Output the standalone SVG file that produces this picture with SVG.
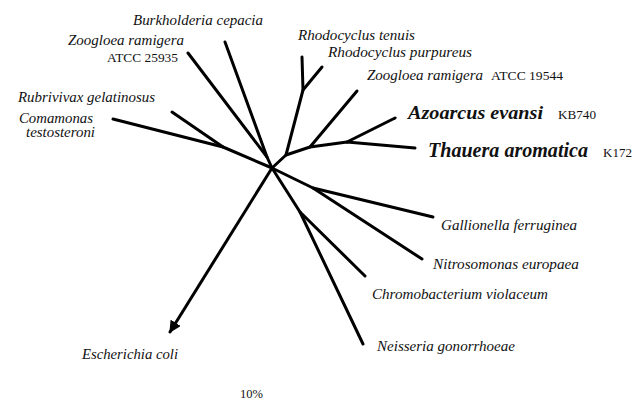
<svg xmlns="http://www.w3.org/2000/svg" width="634" height="405" viewBox="0 0 634 405">
<defs>
<style>
.br{stroke:#000;stroke-width:3;fill:none;stroke-linecap:round;stroke-linejoin:round}
.sp{font-family:"Liberation Serif","Times New Roman",serif;font-style:italic;font-size:14px;fill:#111}
.st{font-family:"Liberation Serif","Times New Roman",serif;font-size:13px;fill:#111}
.bi{font-family:"Liberation Serif","Times New Roman",serif;font-style:italic;font-weight:bold;fill:#111}
</style>
<marker id="arr" viewBox="0 0 10 10" refX="9" refY="5" markerWidth="4" markerHeight="4" orient="auto" markerUnits="strokeWidth">
<path d="M0,0 L10,5 L0,10 z" fill="#000"/>
</marker>
</defs>
<rect width="634" height="405" fill="#fff"/>
<g id="connectors">
<path class="br" d="M188,53 L267,157 L272,168"/>
<path class="br" d="M225,42 L267,157"/>
<path class="br" d="M113,119 L223,147 L272,168"/>
<path class="br" d="M172,112 L223,147"/>
<path class="br" d="M302,57 L303,90 L286,155 L272,168"/>
<path class="br" d="M322,67 L303,90"/>
<path class="br" d="M286,155 L310,147 L347,142 L415,148"/>
<path class="br" d="M357,91 L310,147"/>
<path class="br" d="M347,142 L395,118"/>
<path class="br" d="M272,168 L313,188 L433,217"/>
<path class="br" d="M313,188 L422,259"/>
<path class="br" d="M272,168 L300,212 L365,276"/>
<path class="br" d="M300,212 L363,344"/>
<path class="br" d="M272,168 L170,332" marker-end="url(#arr)"/>
</g>
<g id="n-burkholderia"><text class="sp" x="133" y="25" textLength="130" lengthAdjust="spacingAndGlyphs">Burkholderia cepacia</text></g>
<g id="n-zoogloea25935"><text class="sp" x="68" y="45" textLength="116" lengthAdjust="spacingAndGlyphs">Zoogloea ramigera</text><text class="st" x="107" y="62" textLength="71" lengthAdjust="spacingAndGlyphs">ATCC 25935</text></g>
<g id="n-rubrivivax"><text class="sp" x="18" y="102" textLength="137" lengthAdjust="spacingAndGlyphs">Rubrivivax gelatinosus</text></g>
<g id="n-comamonas"><text class="sp" x="19" y="123" textLength="74" lengthAdjust="spacingAndGlyphs">Comamonas</text><text class="sp" x="26" y="137" textLength="69" lengthAdjust="spacingAndGlyphs">testosteroni</text></g>
<g id="n-rtenuis"><text class="sp" x="298" y="40" textLength="117" lengthAdjust="spacingAndGlyphs">Rhodocyclus tenuis</text></g>
<g id="n-rpurpureus"><text class="sp" x="328" y="57" textLength="144" lengthAdjust="spacingAndGlyphs">Rhodocyclus purpureus</text></g>
<g id="n-zoogloea19544"><text class="sp" x="367" y="80" textLength="116" lengthAdjust="spacingAndGlyphs">Zoogloea ramigera</text><text class="st" x="491" y="80" textLength="72" lengthAdjust="spacingAndGlyphs">ATCC 19544</text></g>
<g id="n-azoarcus"><text class="bi" x="408" y="119" font-size="19" textLength="135" lengthAdjust="spacingAndGlyphs">Azoarcus evansi</text><text class="st" x="558" y="119" font-size="12" textLength="38" lengthAdjust="spacingAndGlyphs">KB740</text></g>
<g id="n-thauera"><text class="bi" x="428" y="157" font-size="21" textLength="160" lengthAdjust="spacingAndGlyphs">Thauera aromatica</text><text class="st" x="603" y="157" font-size="12" textLength="29" lengthAdjust="spacingAndGlyphs">K172</text></g>
<g id="n-gallionella"><text class="sp" x="441" y="230" textLength="136" lengthAdjust="spacingAndGlyphs">Gallionella ferruginea</text></g>
<g id="n-nitrosomonas"><text class="sp" x="433" y="269" textLength="146" lengthAdjust="spacingAndGlyphs">Nitrosomonas europaea</text></g>
<g id="n-chromobacterium"><text class="sp" x="372" y="299" textLength="176" lengthAdjust="spacingAndGlyphs">Chromobacterium violaceum</text></g>
<g id="n-neisseria"><text class="sp" x="377" y="351" textLength="138" lengthAdjust="spacingAndGlyphs">Neisseria gonorrhoeae</text></g>
<g id="n-ecoli"><text class="sp" x="82" y="359" textLength="96" lengthAdjust="spacingAndGlyphs">Escherichia coli</text></g>
<g id="scale"><text class="st" x="240" y="398" font-size="12" textLength="23" lengthAdjust="spacingAndGlyphs">10%</text></g>
</svg>
